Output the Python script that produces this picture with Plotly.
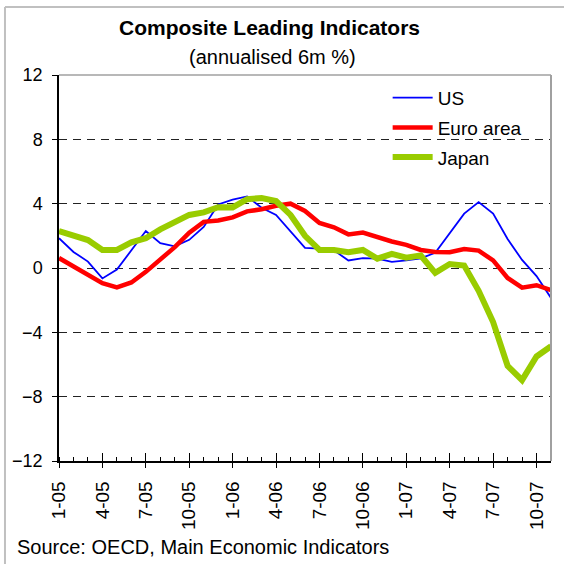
import plotly.graph_objects as go

months = ["1-05", "2-05", "3-05", "4-05", "5-05", "6-05", "7-05", "8-05", "9-05", "10-05", "11-05", "12-05",
          "1-06", "2-06", "3-06", "4-06", "5-06", "6-06", "7-06", "8-06", "9-06", "10-06", "11-06", "12-06",
          "1-07", "2-07", "3-07", "4-07", "5-07", "6-07", "7-07", "8-07", "9-07", "10-07", "11-07"]

us = [1.85, 1.0, 0.4, -0.65, -0.1, 1.1, 2.3, 1.55, 1.35, 1.75, 2.55, 3.95, 4.25, 4.45, 3.75, 3.3, 2.3, 1.25,
      1.2, 1.1, 0.47, 0.62, 0.58, 0.38, 0.47, 0.6, 0.95, 2.2, 3.38, 4.1, 3.38, 1.8, 0.5, -0.5, -1.86]
euro = [0.62, 0.07, -0.44, -0.95, -1.2, -0.9, -0.24, 0.52, 1.3, 2.2, 2.87, 2.95, 3.15, 3.52, 3.65, 3.87, 4.0, 3.55,
        2.8, 2.53, 2.09, 2.2, 1.89, 1.65, 1.44, 1.12, 1.0, 0.98, 1.18, 1.08, 0.47, -0.62, -1.22, -1.07, -1.38]
japan = [2.3, 2.0, 1.74, 1.12, 1.12, 1.6, 1.85, 2.4, 2.85, 3.3, 3.46, 3.78, 3.77, 4.28, 4.35, 4.16, 3.3, 2.0,
         1.12, 1.12, 0.98, 1.12, 0.58, 0.88, 0.64, 0.78, -0.3, 0.25, 0.15, -1.42, -3.36, -6.08, -6.97, -5.5, -4.87]

y_ticks = [-12, -8, -4, 0, 4, 8, 12]
label_step = 3

x = list(range(len(months)))
tick_idx = x[::label_step]
tick_txt = [months[i] for i in tick_idx]

FONT = "Liberation Sans, Arial, sans-serif"

fig = go.Figure()
fig.add_trace(go.Scatter(x=x, y=us, name="US", mode="lines", legendgroup="a",
                         line=dict(color="#0000FF", width=1.8)))
fig.add_trace(go.Scatter(x=x, y=euro, name="Euro area", mode="lines", legendgroup="b",
                         line=dict(color="#FF0000", width=4.5)))
fig.add_trace(go.Scatter(x=x, y=japan, name="Japan", mode="lines", legendgroup="c",
                         line=dict(color="#99CC00", width=6)))
# helper trace for the inner half of the crossing tick marks
fig.add_trace(go.Scatter(x=[x[0], x[-1]], y=[None, None], xaxis="x2", showlegend=False,
                         hoverinfo="skip", mode="lines"))

fig.update_layout(
    width=564, height=564,
    margin=dict(l=59, r=13, t=75, b=103),
    paper_bgcolor="white", plot_bgcolor="white",
    font=dict(family=FONT, color="black"),
    showlegend=True,
    legend=dict(x=0.668, y=0.99, xanchor="left", yanchor="top", bgcolor="rgba(0,0,0,0)",
                font=dict(size=19, family=FONT), tracegroupgap=2, itemwidth=40),
    xaxis=dict(range=[x[0], x[-1]], tickvals=tick_idx, ticktext=tick_txt, tickangle=-90,
               ticks="outside", ticklen=5, tickcolor="black", tickwidth=1,
               tickfont=dict(size=19, family=FONT), ticklabelstandoff=6,
               showline=True, linecolor="black", linewidth=1.5, showgrid=False, zeroline=False,
               minor=dict(dtick=1, tick0=0, ticks="inside", ticklen=4, tickcolor="black", showgrid=False)),
    xaxis2=dict(range=[x[0], x[-1]], overlaying="x", tickvals=tick_idx, showticklabels=False,
                ticks="inside", ticklen=8, tickcolor="black", tickwidth=1, showgrid=False,
                zeroline=False, showline=False),
    yaxis=dict(range=[y_ticks[0], y_ticks[-1]], tickvals=y_ticks, ticks="outside", ticklen=5,
               tickcolor="black", tickfont=dict(size=18, family=FONT), ticklabelstandoff=6,
               showline=True, linecolor="black", linewidth=1.5,
               showgrid=True, gridcolor="#222222", gridwidth=1, griddash="8px,6px",
               zeroline=False),
    annotations=[
        dict(text="<b>Composite Leading Indicators</b>", xref="paper", yref="paper",
             x=0.427, y=1.1218, xanchor="center", yanchor="middle", showarrow=False,
             font=dict(size=21, family=FONT)),
        dict(text="(annualised 6m %)", xref="paper", yref="paper",
             x=0.433, y=1.0466, xanchor="center", yanchor="middle", showarrow=False,
             font=dict(size=20, family=FONT)),
        dict(text="Source: OECD, Main Economic Indicators", xref="paper", yref="paper",
             x=-0.0894, y=-0.2228, xanchor="left", yanchor="middle", showarrow=False,
             font=dict(size=20, family=FONT)),
    ],
    shapes=[
        # gray top & right border of plot area
        dict(type="line", xref="paper", yref="paper", x0=0, x1=1, y0=1, y1=1,
             line=dict(color="#A0A0A0", width=1.5), layer="above"),
        dict(type="line", xref="paper", yref="paper", x0=1, x1=1, y0=0, y1=1,
             line=dict(color="#A0A0A0", width=2), layer="above"),
        # outer frame (top and left edges visible)
        dict(type="line", xref="paper", yref="paper", x0=-0.1098, x1=1.05, y0=1.176, y1=1.176,
             line=dict(color="#C0C0C0", width=2)),
        dict(type="line", xref="paper", yref="paper", x0=-0.1098, x1=-0.1098, y0=-0.30, y1=1.176,
             line=dict(color="#C0C0C0", width=2)),
    ],
)

fig.write_html("out.html", config={"displayModeBar": False},
               post_script="document.body.style.margin='0';document.body.style.padding='0';")
